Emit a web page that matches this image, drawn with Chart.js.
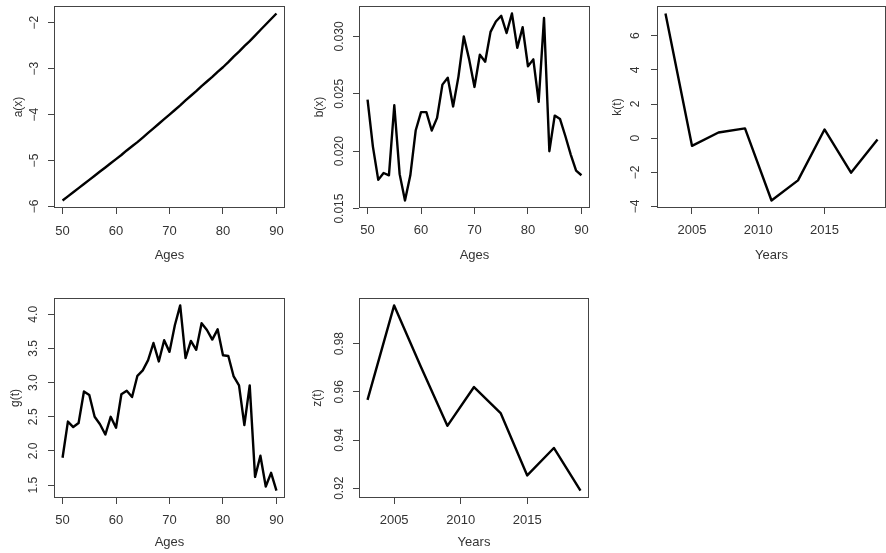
<!DOCTYPE html>
<html>
<head>
<meta charset="utf-8">
<script src="https://cdn.jsdelivr.net/npm/chart.js@4.4.1/dist/chart.umd.min.js"></script>
<style>
  body { margin: 0; background: #fff; width: 886px; height: 553px; position: relative; overflow: hidden; }
  canvas { position: absolute; }
</style>
</head>
<body>
<canvas id="pa"></canvas>
<canvas id="pb"></canvas>
<canvas id="pk"></canvas>
<canvas id="pg"></canvas>
<canvas id="pz"></canvas>
<script>
var ages = [50, 51, 52, 53, 54, 55, 56, 57, 58, 59, 60, 61, 62, 63, 64, 65, 66, 67, 68, 69, 70,
            71, 72, 73, 74, 75, 76, 77, 78, 79, 80, 81, 82, 83, 84, 85, 86, 87, 88, 89, 90];
var years = [2003, 2005, 2007, 2009, 2011, 2013, 2015, 2017, 2019];

var ax = [-5.87, -5.78, -5.69, -5.60, -5.51, -5.42, -5.33, -5.24, -5.15, -5.06, -4.97,
          -4.88, -4.78, -4.69, -4.60, -4.50, -4.40, -4.30, -4.20, -4.10, -4.00,
          -3.90, -3.80, -3.69, -3.59, -3.49, -3.38, -3.28, -3.18, -3.07, -2.97,
          -2.86, -2.74, -2.63, -2.51, -2.40, -2.28, -2.16, -2.04, -1.92, -1.80];
var bx = [0.0245, 0.0204, 0.0175, 0.0181, 0.0179, 0.0240, 0.0180, 0.0157, 0.0179, 0.0218, 0.0234,
          0.0234, 0.0218, 0.0229, 0.0258, 0.0264, 0.0239, 0.0265, 0.0300, 0.0280, 0.0256,
          0.0284, 0.0278, 0.0304, 0.0313, 0.0318, 0.0303, 0.0320, 0.0290, 0.0308, 0.0274,
          0.0280, 0.0243, 0.0316, 0.0200, 0.0231, 0.0228, 0.0213, 0.0197, 0.0183, 0.0179];
var kt = [7.3, -0.45, 0.33, 0.57, -3.65, -2.47, 0.51, -2.02, -0.08];
var gt = [1.90, 2.43, 2.35, 2.41, 2.87, 2.82, 2.50, 2.39, 2.24, 2.50, 2.34,
          2.83, 2.88, 2.79, 3.10, 3.18, 3.33, 3.58, 3.31, 3.62, 3.45,
          3.84, 4.13, 3.36, 3.61, 3.48, 3.87, 3.77, 3.63, 3.78, 3.40,
          3.39, 3.09, 2.96, 2.38, 2.96, 1.62, 1.93, 1.48, 1.68, 1.42];
var zt = [0.9567, 0.9959, 0.9705, 0.9459, 0.9620, 0.9512, 0.9253, 0.9367, 0.9190];

var ageTicks = [50, 60, 70, 80, 90];
var yearTicks = [2005, 2010, 2015];
var axTicks = [-6, -5, -4, -3, -2];
var bxTicks = [0.015, 0.020, 0.025, 0.030];
var ktTicks = [-4, -2, 0, 2, 4, 6];
var gtTicks = [1.5, 2.0, 2.5, 3.0, 3.5, 4.0];
var ztTicks = [0.92, 0.94, 0.96, 0.98];

var FONT = '"Liberation Sans", Arial, sans-serif';
var TXT = '#333';

var panels = [
  { id: 'pa', x: ages, y: ax, xTicks: ageTicks, yTicks: axTicks, dec: 0, xTitle: 'Ages', yTitle: 'a(x)',
    box: [54, 6, 285, 208], yLab: 19, yTit: 35, xLab: 23, xTit: 47 },
  { id: 'pb', x: ages, y: bx, xTicks: ageTicks, yTicks: bxTicks, dec: 3, xTitle: 'Ages', yTitle: 'b(x)',
    box: [359, 6, 590, 208], yLab: 19, yTit: 39, xLab: 22.5, xTit: 47 },
  { id: 'pk', x: years, y: kt, xTicks: yearTicks, yTicks: ktTicks, dec: 0, xTitle: 'Years', yTitle: 'k(t)',
    box: [657, 6, 886, 208], yLab: 21, yTit: 39, xLab: 22.5, xTit: 47 },
  { id: 'pg', x: ages, y: gt, xTicks: ageTicks, yTicks: gtTicks, dec: 1, xTitle: 'Ages', yTitle: 'g(t)',
    box: [54, 298, 285, 498], yLab: 20, yTit: 38, xLab: 22, xTit: 44 },
  { id: 'pz', x: years, y: zt, xTicks: yearTicks, yTicks: ztTicks, dec: 2, xTitle: 'Years', yTitle: 'z(t)',
    box: [359, 298, 589, 498], yLab: 19, yTit: 41, xLab: 22, xTit: 44 }
];

// R style axis range: data range plus 4% on each side
function rng(v) {
  var lo = Math.min.apply(null, v), hi = Math.max.apply(null, v), p = (hi - lo) * 0.04;
  return [lo - p, hi + p];
}
function fmt(v, dec) {
  return v.toFixed(dec).replace('-', '\u2212');
}

var meas = document.createElement('canvas').getContext('2d');
meas.font = '12px ' + FONT;

var boxPlugin = {
  id: 'box',
  afterDraw: function(chart) {
    var a = chart.chartArea, ctx = chart.ctx;
    ctx.save();
    ctx.strokeStyle = '#444';
    ctx.lineWidth = 1;
    ctx.strokeRect(Math.round(a.left) + 0.5, Math.round(a.top) + 0.5,
                   Math.round(a.right - a.left) - 1, Math.round(a.bottom - a.top) - 1);
    ctx.restore();
  }
};

function makeChart(p) {
  var L = p.box[0], T = p.box[1], R = p.box[2], B = p.box[3];
  var cx0 = L - 58, cy0 = Math.max(T - 6, 0), cx1 = R + 4, cy1 = B + 56;
  var cv = document.getElementById(p.id);
  cv.width = cx1 - cx0;
  cv.height = cy1 - cy0;
  cv.style.left = cx0 + 'px';
  cv.style.top = cy0 + 'px';

  var xr = rng(p.x), yr = rng(p.y);
  var widest = Math.max.apply(null, p.yTicks.map(function(v) { return meas.measureText(fmt(v, p.dec)).width; }));
  var points = p.x.map(function(v, i) { return { x: v, y: p.y[i] }; });

  new Chart(cv, {
    type: 'line',
    data: {
      datasets: [{
        data: points,
        borderColor: '#000',
        borderWidth: 2.4,
        borderJoinStyle: 'round',
        pointRadius: 0,
        tension: 0,
        fill: false
      }]
    },
    options: {
      responsive: false,
      animation: false,
      layout: { padding: { left: 0, top: T - cy0, right: cx1 - R, bottom: 0 } },
      plugins: { legend: { display: false }, tooltip: { enabled: false } },
      scales: {
        x: {
          type: 'linear',
          min: xr[0],
          max: xr[1],
          afterFit: function(s) {
            s.height = cy1 - B;
            s.paddingLeft = 0; s.paddingRight = 0; s.paddingTop = 0; s.paddingBottom = 0;
          },
          afterBuildTicks: function(s) { s.ticks = p.xTicks.map(function(v) { return { value: v }; }); },
          ticks: {
            autoSkip: false,
            maxRotation: 0,
            color: TXT,
            font: { family: FONT, size: 13 },
            padding: p.xLab - 6 - 7.8,
            callback: function(v) { return String(v); }
          },
          grid: { drawOnChartArea: false, tickLength: 6, color: '#444' },
          border: { display: false },
          title: {
            display: true,
            text: p.xTitle,
            color: TXT,
            font: { family: FONT, size: 13, lineHeight: 1 },
            padding: { top: 0, bottom: 56 - p.xTit - 6.5 }
          }
        },
        y: {
          type: 'linear',
          min: yr[0],
          max: yr[1],
          afterFit: function(s) {
            s.width = L - cx0;
            s.paddingLeft = 0; s.paddingRight = 0; s.paddingTop = 0; s.paddingBottom = 0;
          },
          afterBuildTicks: function(s) { s.ticks = p.yTicks.map(function(v) { return { value: v }; }); },
          ticks: {
            autoSkip: false,
            minRotation: 90,
            maxRotation: 90,
            crossAlign: 'center',
            color: TXT,
            font: { family: FONT, size: 12 },
            padding: p.yLab - 6 - widest / 2,
            callback: function(v) { return fmt(v, p.dec); }
          },
          grid: { drawOnChartArea: false, tickLength: 6, color: '#444' },
          border: { display: false },
          title: {
            display: true,
            text: p.yTitle,
            color: TXT,
            font: { family: FONT, size: 12, lineHeight: 1 },
            padding: { top: 58 - p.yTit - 6, bottom: 0 }
          }
        }
      }
    },
    plugins: [boxPlugin]
  });
}

panels.forEach(makeChart);
</script>
</body>
</html>
